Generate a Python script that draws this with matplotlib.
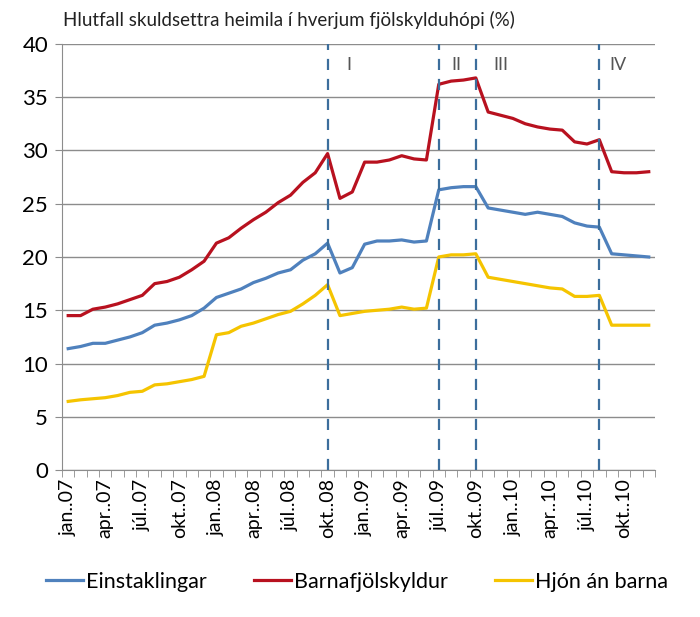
import matplotlib.pyplot as plt
import numpy as np

plt.rcParams['font.family'] = ['Lato', 'DejaVu Sans']

# monthly, jan 2007 - des 2010
months = ['jan', 'feb', 'mar', 'apr', 'maí', 'jún', 'júl', 'ágú', 'sep', 'okt', 'nóv', 'des']
years = ['07', '08', '09', '10']
periods = [m + '..' + y for y in years for m in months]

einstaklingar = [11.4, 11.6, 11.9, 11.9, 12.2, 12.5, 12.9, 13.6, 13.8, 14.1, 14.5, 15.2,
                 16.2, 16.6, 17.0, 17.6, 18.0, 18.5, 18.8, 19.7, 20.3, 21.3, 18.5, 19.0,
                 21.2, 21.5, 21.5, 21.6, 21.4, 21.5, 26.3, 26.5, 26.6, 26.6, 24.6, 24.4,
                 24.2, 24.0, 24.2, 24.0, 23.8, 23.2, 22.9, 22.8, 20.3, 20.2, 20.1, 20.0]
barnafjolskyldur = [14.5, 14.5, 15.1, 15.3, 15.6, 16.0, 16.4, 17.5, 17.7, 18.1, 18.8, 19.6,
                    21.3, 21.8, 22.7, 23.5, 24.2, 25.1, 25.8, 27.0, 27.9, 29.7, 25.5, 26.1,
                    28.9, 28.9, 29.1, 29.5, 29.2, 29.1, 36.2, 36.5, 36.6, 36.8, 33.6, 33.3,
                    33.0, 32.5, 32.2, 32.0, 31.9, 30.8, 30.6, 31.0, 28.0, 27.9, 27.9, 28.0]
hjon_an_barna = [6.45, 6.6, 6.7, 6.8, 7.0, 7.3, 7.4, 8.0, 8.1, 8.3, 8.5, 8.8,
                 12.7, 12.9, 13.5, 13.8, 14.2, 14.6, 14.9, 15.6, 16.4, 17.4, 14.5, 14.7,
                 14.9, 15.0, 15.1, 15.3, 15.1, 15.2, 20.0, 20.2, 20.2, 20.3, 18.1, 17.9,
                 17.7, 17.5, 17.3, 17.1, 17.0, 16.3, 16.3, 16.4, 13.6, 13.6, 13.6, 13.6]

phase_breaks = ['okt..08', 'júl..09', 'okt..09', 'ágú..10']
phase_labels = ['I', 'II', 'III', 'IV']
phase_label_x = [22.7, 31.4, 35.0, 44.5]

x = np.arange(len(periods))

fig = plt.figure(figsize=(7, 6.17), dpi=100)
ax = fig.add_axes([0.0886, 0.238, 0.847, 0.691])

ax.plot(x, einstaklingar, color='#4f81bd', lw=2.3, label='Einstaklingar')
ax.plot(x, barnafjolskyldur, color='#b8111f', lw=2.3, label='Barnafjölskyldur')
ax.plot(x, hjon_an_barna, color='#f5c400', lw=2.3, label='Hjón án barna')

for p in phase_breaks:
    ax.axvline(periods.index(p), color='#3c6e9c', lw=1.6, ls=(0, (5, 4)), zorder=3)
for lx, lab in zip(phase_label_x, phase_labels):
    ax.text(lx, 38.0, lab, ha='center', va='center', fontsize=13, color='#555555')

ax.set_xlim(-0.5, len(periods) - 0.5)
ax.set_ylim(0, 40)
ax.set_yticks(np.arange(0, 41, 5))
ax.yaxis.grid(True, color='#8c8c8c', lw=1)
ax.set_axisbelow(True)

ax.set_xticks(x[::3])
ax.set_xticklabels(periods[::3], rotation=90, fontsize=14)
ax.set_xticks(np.arange(-0.5, len(periods), 1), minor=True)
ax.tick_params(axis='x', which='major', length=0, pad=6)
ax.tick_params(axis='x', which='minor', length=5, color='#8c8c8c')
ax.tick_params(axis='y', labelsize=16, length=5, color='#8c8c8c', pad=5)

for s in ['top', 'right']:
    ax.spines[s].set_visible(False)
ax.spines['left'].set_color('#8c8c8c')
ax.spines['bottom'].set_color('#8c8c8c')

fig.text(0.09, 0.967, 'Hlutfall skuldsettra heimila í hverjum fjölskylduhópi (%)',
         fontsize=13.5, ha='left', va='center', color='#222222')

fig.legend(loc='center', bbox_to_anchor=(0.51, 0.057), ncol=3, frameon=False,
           fontsize=15.5, handlelength=1.7, handletextpad=0.15, columnspacing=2.2)

fig.savefig('out.png', dpi=100)
